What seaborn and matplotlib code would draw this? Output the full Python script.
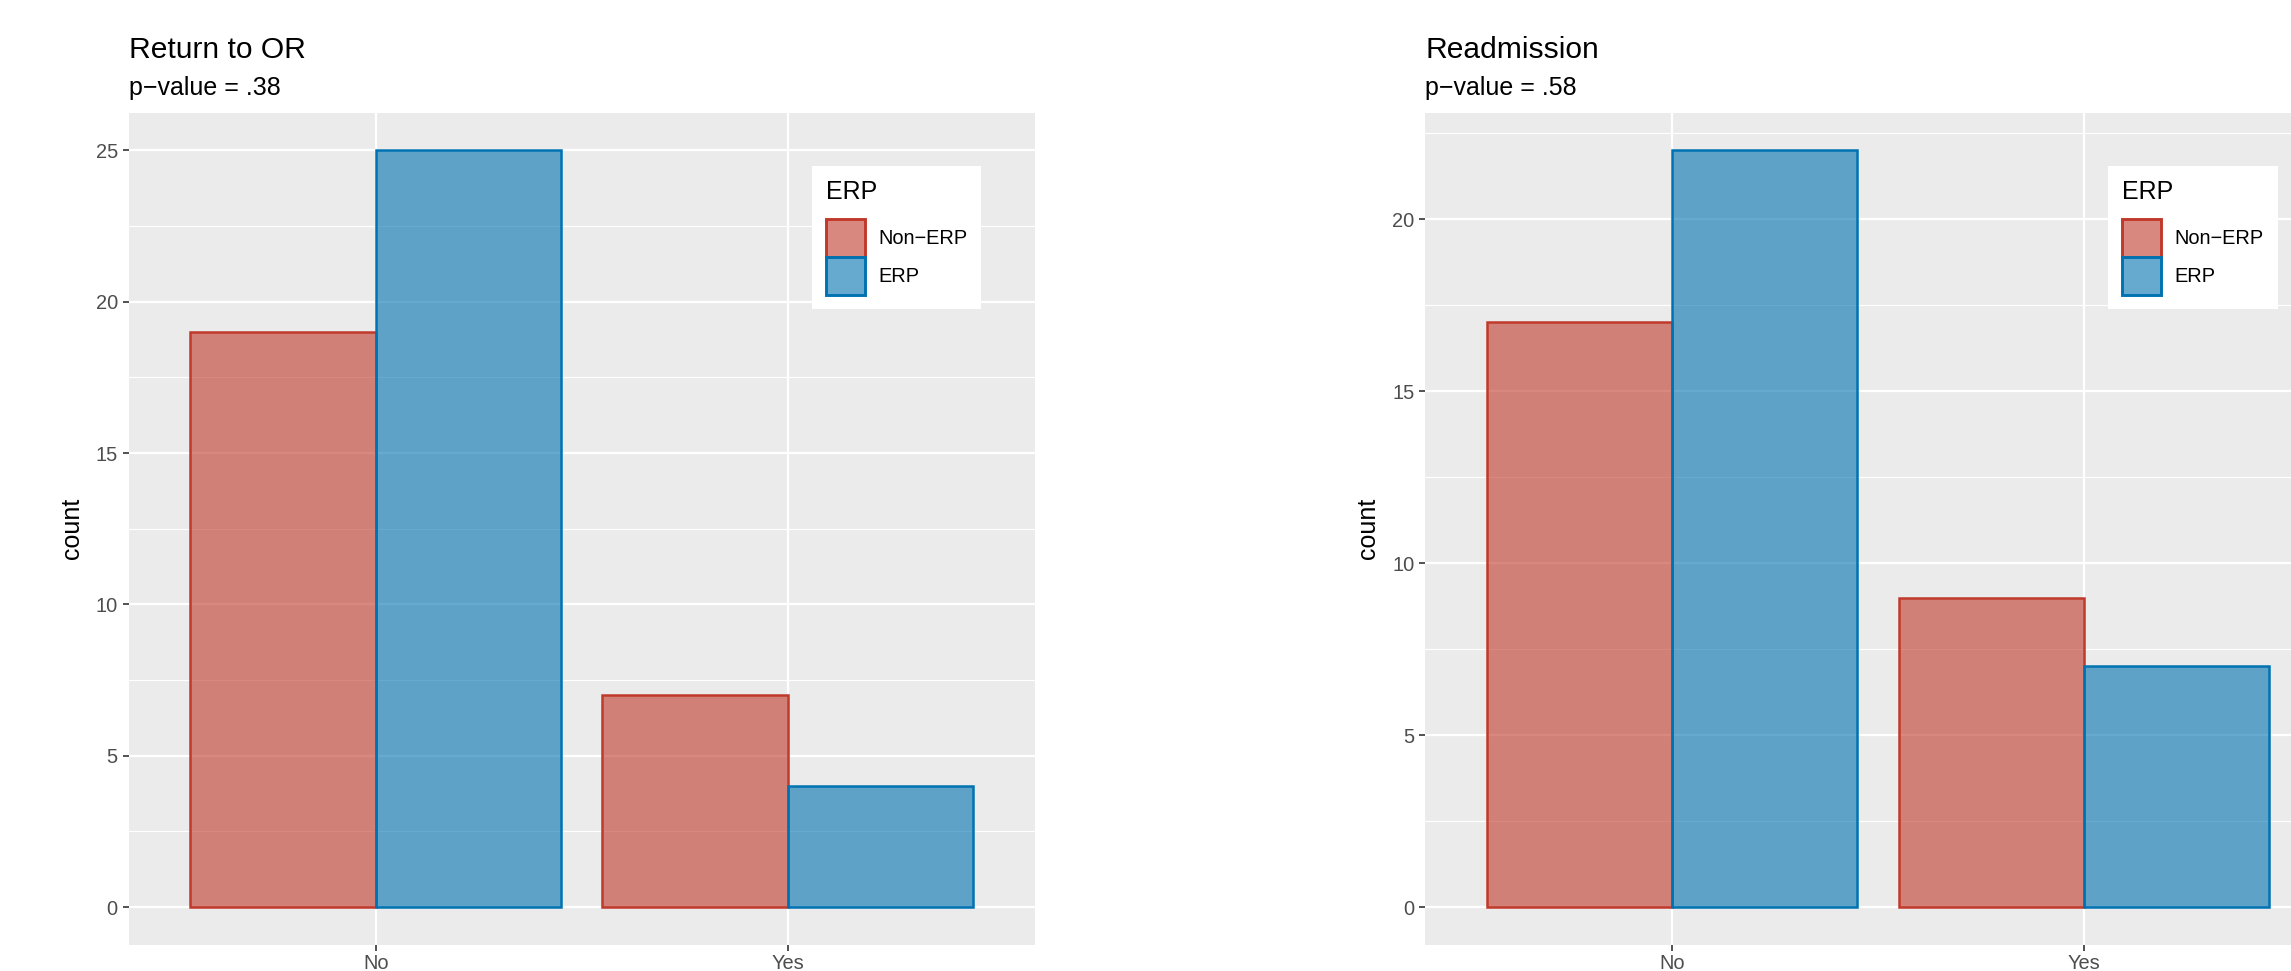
import matplotlib
matplotlib.use("Agg")
import pandas as pd
import matplotlib.pyplot as plt
import seaborn as sns
from matplotlib.colors import to_rgba
from matplotlib.patches import Patch
from matplotlib.ticker import MultipleLocator

# Daten
categories = ["No", "Yes"]
groups = ["Non-ERP", "ERP"]
group_labels = ["Non\u2212ERP", "ERP"]
return_or_non_erp = [19, 7]
return_or_erp = [25, 4]
readmission_non_erp = [17, 9]
readmission_erp = [22, 7]
titles = ["Return to OR", "Readmission"]
subtitles = ["p\u2212value = .38", "p\u2212value = .58"]

EDGE = {"Non-ERP": "#C0392B", "ERP": "#0072B2"}
W, H, DPI = 2291, 971, 150

plt.rcParams["font.family"] = ["Liberation Sans", "DejaVu Sans"]


def make_df(non_erp, erp):
    rows = []
    for g, vals in zip(groups, [non_erp, erp]):
        for c, v in zip(categories, vals):
            rows.append({"outcome": c, "ERP": g, "count": v})
    return pd.DataFrame(rows)


def draw_panel(fig, left_px, df, title, subtitle):
    ax = fig.add_axes([left_px / W, 26 / H, 906 / W, 832.5 / H])
    ax.set_facecolor("#EBEBEB")
    sns.barplot(data=df, x="outcome", y="count", hue="ERP",
                order=categories, hue_order=groups, palette=EDGE,
                width=0.9, dodge=True, legend=False, ax=ax)
    for g, cont in zip(groups, ax.containers):
        for bar in cont:
            bar.set_facecolor(to_rgba(EDGE[g], 0.6))
            bar.set_edgecolor(EDGE[g])
            bar.set_linewidth(1.2)
            bar.set_zorder(2)

    ymax = df["count"].max()
    ax.set_ylim(-0.05 * ymax, 1.05 * ymax)
    ax.set_xlim(-0.6, 1.6)
    ax.yaxis.set_major_locator(MultipleLocator(5))
    ax.yaxis.set_minor_locator(MultipleLocator(2.5))
    ax.set_axisbelow(True)
    ax.grid(which="major", color="white", lw=1.1)
    ax.grid(which="minor", axis="y", color="white", lw=0.55)
    for s in ax.spines.values():
        s.set_visible(False)
    ax.tick_params(which="major", length=2.75, width=0.8, color="#333333",
                   labelsize=9.6, labelcolor="#4D4D4D", pad=2.4)
    ax.tick_params(axis="x", which="major", pad=1.5)
    ax.tick_params(which="minor", length=0)
    ax.set_xlabel("")
    ax.set_ylabel("count", fontsize=12, color="black")
    ax.yaxis.set_label_coords(-0.0492, 0.5)

    fig.text(left_px / W, 1 - 58 / H, title, fontsize=14.4, va="baseline", ha="left")
    fig.text(left_px / W, 1 - 95 / H, subtitle, fontsize=12, va="baseline", ha="left")

    handles = [Patch(facecolor=to_rgba(EDGE[g], 0.6), edgecolor=EDGE[g], linewidth=1.4)
               for g in groups]
    leg = ax.legend(handles, group_labels, title="ERP", loc="upper left",
                    bbox_to_anchor=((left_px + 813 - 128.6) / W, 1 - 167 / H),
                    bbox_transform=fig.transFigure, borderaxespad=0,
                    fontsize=9.6, title_fontsize=12, alignment="left",
                    handlelength=1.95, handleheight=2.55, labelspacing=0,
                    handletextpad=0.65, borderpad=0.65, frameon=True,
                    fancybox=False, framealpha=1, edgecolor="white",
                    facecolor="white")
    leg._legend_box.sep = 7
    return ax


fig = plt.figure(figsize=(W / DPI, H / DPI), dpi=DPI)
draw_panel(fig, 128.6, make_df(return_or_non_erp, return_or_erp), titles[0], subtitles[0])
draw_panel(fig, 1425, make_df(readmission_non_erp, readmission_erp), titles[1], subtitles[1])
fig.savefig("out.png", dpi=DPI)
